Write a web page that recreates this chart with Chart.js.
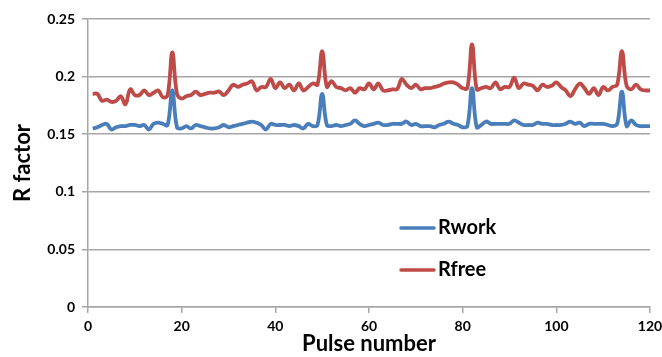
<!DOCTYPE html>
<html><head><meta charset="utf-8">
<script src="https://cdn.jsdelivr.net/npm/chart.js@4/dist/chart.umd.min.js"></script>
<style>html,body{margin:0;padding:0;background:#fff}#wrap{width:662px;height:357px;position:relative}</style>
</head><body><div id="wrap"><canvas id="c" width="662" height="357"></canvas></div>
<script>
const pulses = [1,2,3,4,5,6,7,8,9,10,11,12,13,14,15,16,17,18,19,20,21,22,23,24,25,26,27,28,29,30,
31,32,33,34,35,36,37,38,39,40,41,42,43,44,45,46,47,48,49,50,51,52,53,54,55,56,57,58,59,60,
61,62,63,64,65,66,67,68,69,70,71,72,73,74,75,76,77,78,79,80,81,82,83,84,85,86,87,88,89,90,
91,92,93,94,95,96,97,98,99,100,101,102,103,104,105,106,107,108,109,110,111,112,113,114,115,116,117,118,119,120];

const rwork = [0.155,0.156,0.158,0.159,0.154,0.156,0.157,0.157,0.158,0.158,
0.157,0.158,0.154,0.159,0.160,0.159,0.158,0.188,0.156,0.155,
0.157,0.155,0.158,0.157,0.156,0.155,0.155,0.156,0.158,0.156,
0.157,0.158,0.159,0.160,0.161,0.160,0.158,0.154,0.159,0.158,
0.158,0.158,0.157,0.158,0.157,0.155,0.159,0.157,0.158,0.185,
0.158,0.157,0.158,0.157,0.158,0.159,0.162,0.159,0.157,0.158,
0.159,0.160,0.158,0.158,0.159,0.159,0.159,0.161,0.158,0.159,
0.157,0.157,0.157,0.156,0.158,0.159,0.161,0.159,0.158,0.156,
0.157,0.190,0.156,0.158,0.161,0.159,0.159,0.159,0.159,0.159,
0.162,0.160,0.158,0.158,0.158,0.160,0.159,0.159,0.158,0.158,
0.158,0.159,0.161,0.159,0.160,0.157,0.159,0.159,0.159,0.159,
0.158,0.157,0.159,0.187,0.157,0.162,0.158,0.157,0.157,0.157];

const rfree = [0.185,0.185,0.179,0.180,0.178,0.179,0.183,0.176,0.189,0.184,
0.184,0.188,0.184,0.186,0.188,0.182,0.184,0.221,0.185,0.181,
0.183,0.184,0.187,0.184,0.185,0.186,0.186,0.187,0.184,0.188,
0.193,0.191,0.193,0.194,0.196,0.188,0.191,0.191,0.198,0.190,
0.195,0.190,0.193,0.188,0.194,0.188,0.191,0.194,0.193,0.222,
0.191,0.196,0.191,0.190,0.188,0.190,0.186,0.190,0.189,0.194,
0.189,0.194,0.188,0.188,0.189,0.189,0.198,0.193,0.190,0.193,
0.189,0.190,0.190,0.191,0.192,0.194,0.195,0.195,0.193,0.190,
0.190,0.228,0.189,0.190,0.191,0.190,0.195,0.189,0.191,0.191,
0.199,0.190,0.194,0.193,0.192,0.188,0.193,0.191,0.192,0.195,
0.191,0.188,0.183,0.189,0.194,0.190,0.185,0.190,0.184,0.191,
0.188,0.191,0.193,0.222,0.192,0.189,0.193,0.189,0.188,0.188];

const seriesNames = ['Rwork','Rfree'];
const xTickValues = [0,20,40,60,80,100,120];
const yTickLabels = ['0','0.05','0.1','0.15','0.2','0.25'];
const xTitle = 'Pulse number';
const yTitle = 'R factor';

const BLUE = '#4A7EBB', RED = '#BE4B48', GRID = '#A6A6A6';
const FONT = 'Lato, "Liberation Sans", sans-serif';

const legendPlugin = {
  id: 'insideLegend',
  afterDraw(chart) {
    const ctx = chart.ctx;
    const items = [
      {label: seriesNames[0], color: BLUE, y: 228},
      {label: seriesNames[1], color: RED, y: 270}
    ];
    ctx.save();
    items.forEach(it => {
      ctx.strokeStyle = it.color;
      ctx.lineWidth = 3.5;
      ctx.lineCap = 'round';
      ctx.beginPath();
      ctx.moveTo(401, it.y);
      ctx.lineTo(434, it.y);
      ctx.stroke();
      ctx.fillStyle = '#000';
      ctx.font = 'bold 20px ' + FONT;
      ctx.textBaseline = 'middle';
      ctx.textAlign = 'left';
      ctx.fillText(it.label, 438, it.y);
    });
    ctx.restore();
  }
};

new Chart(document.getElementById('c'), {
  type: 'line',
  data: {
    datasets: [
      {label: seriesNames[0], data: pulses.map((p,i)=>({x:p,y:rwork[i]})), borderColor: BLUE, borderWidth: 3.8, pointRadius: 0, tension: 0.4, fill: false},
      {label: seriesNames[1], data: pulses.map((p,i)=>({x:p,y:rfree[i]})), borderColor: RED, borderWidth: 3.8, pointRadius: 0, tension: 0.4, fill: false}
    ]
  },
  options: {
    responsive: false,
    animation: false,
    layout: {padding: {top: 19, right: 12, left: 0, bottom: 0}},
    plugins: {legend: {display: false}, tooltip: {enabled: false}},
    scales: {
      x: {
        type: 'linear', min: 0, max: 120,
        afterBuildTicks: s => { s.ticks = xTickValues.map(v => ({value: v})); },
        afterFit: s => { s.height = 50; s.paddingRight = 0; s.paddingLeft = 0; },
        ticks: {color: '#000', font: {family: FONT, weight: 'bold', size: 14}, padding: 5, maxRotation: 0},
        grid: {drawOnChartArea: false, color: GRID, tickLength: 6, lineWidth: 1.5},
        border: {color: GRID, width: 1.5},
        title: {display: true, text: xTitle, color: '#000', font: {family: FONT, weight: 'bold', size: 22}, padding: {top: 0, bottom: 0}}
      },
      y: {
        min: 0, max: 0.25,
        afterBuildTicks: s => { s.ticks = yTickLabels.map(t => ({value: parseFloat(t)})); },
        afterFit: s => { s.width = 88; s.paddingTop = 0; s.paddingBottom = 0; },
        ticks: {color: '#000', font: {family: FONT, weight: 'bold', size: 14}, padding: 7, callback: (v, i) => yTickLabels[i]},
        grid: {color: GRID, tickLength: 6, lineWidth: 1.5},
        border: {color: GRID, width: 1.5},
        title: {display: true, text: yTitle, color: '#000', font: {family: FONT, weight: 'bold', size: 22}, padding: {top: 10, bottom: 0}}
      }
    }
  },
  plugins: [legendPlugin]
});
</script>
</body></html>
